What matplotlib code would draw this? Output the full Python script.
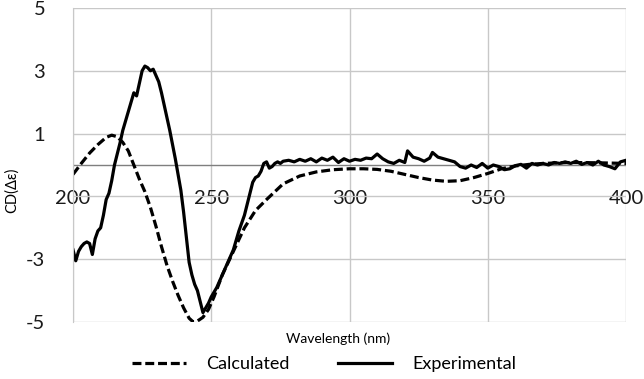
import numpy as np
import matplotlib
matplotlib.use('Agg')
from matplotlib import pyplot as plt

plt.rcParams['font.family'] = ['Lato', 'DejaVu Sans']

# Calculated CD spectrum (dashed)
calc_wl = [200, 203, 206, 209, 212, 214, 216, 218, 220, 222, 224, 226, 228, 230,
           232, 234, 236, 238, 240, 242, 243.5, 245, 247, 249, 251, 254, 258, 262,
           266, 270, 276, 282, 288, 294, 300, 305, 310, 315, 320, 325, 330, 335,
           340, 345, 350, 355, 360, 365, 370, 380, 390, 400]
calc_cd = [-0.3, 0.05, 0.38, 0.65, 0.88, 0.95, 0.9, 0.72, 0.45, 0.0, -0.45, -0.85,
           -1.35, -1.95, -2.6, -3.2, -3.7, -4.15, -4.55, -4.88, -5.0, -4.97, -4.85,
           -4.6, -4.2, -3.5, -2.75, -2.0, -1.45, -1.1, -0.6, -0.35, -0.22, -0.15,
           -0.12, -0.12, -0.14, -0.2, -0.3, -0.4, -0.48, -0.52, -0.5, -0.4, -0.27,
           -0.12, -0.03, 0.02, 0.05, 0.08, 0.07, 0.05]

# Experimental CD spectrum (solid)
exp_wl = [200, 201, 202, 203, 204, 205, 206, 207, 208, 209, 210, 211, 212, 213, 214,
          215, 216, 217, 218, 219, 220, 221, 222, 223, 224, 225, 226, 227, 228, 229,
          230, 231, 232, 233, 234, 235, 236, 237, 238, 239, 240, 241, 242, 243, 244,
          245, 246, 247, 248, 249, 250, 252, 254, 256, 258, 260, 262, 264, 265, 266,
          267, 268, 269, 270, 271, 272, 273, 274, 275, 276, 278, 280, 282, 284, 286,
          288, 290, 292, 294, 296, 298, 300, 302, 304, 306, 308, 310, 312, 314, 316,
          318, 320, 321, 323, 325, 327, 329, 330, 332, 334, 336, 338, 340, 342, 344,
          346, 348, 350, 352, 354, 356, 358, 360, 362, 364, 366, 368, 370, 372, 374,
          376, 378, 380, 382, 384, 386, 388, 390, 392, 394, 396, 398, 400]
exp_cd = [-2.7, -3.05, -2.75, -2.6, -2.5, -2.45, -2.5, -2.85, -2.35, -2.1, -2.0, -1.6,
          -1.1, -0.9, -0.5, 0.0, 0.35, 0.7, 1.1, 1.4, 1.7, 2.0, 2.3, 2.2, 2.6, 3.0,
          3.15, 3.1, 3.0, 3.05, 2.85, 2.65, 2.3, 1.9, 1.5, 1.1, 0.65, 0.2, -0.3, -0.8,
          -1.5, -2.3, -3.1, -3.5, -3.8, -4.0, -4.35, -4.7, -4.55, -4.4, -4.2, -3.9,
          -3.5, -3.1, -2.7, -2.1, -1.6, -0.9, -0.55, -0.4, -0.35, -0.2, 0.05, 0.1,
          -0.1, -0.05, 0.05, 0.1, 0.05, 0.12, 0.15, 0.1, 0.18, 0.12, 0.2, 0.1, 0.22,
          0.15, 0.25, 0.08, 0.2, 0.12, 0.18, 0.15, 0.22, 0.2, 0.35, 0.2, 0.1, 0.05,
          0.15, 0.08, 0.45, 0.25, 0.2, 0.12, 0.22, 0.4, 0.25, 0.2, 0.15, 0.1, -0.05,
          -0.1, 0.0, -0.08, 0.05, -0.1, 0.0, -0.05, -0.15, -0.12, -0.02, 0.02, -0.1,
          0.05, 0.0, 0.05, 0.0, 0.08, 0.05, 0.1, 0.05, 0.12, 0.02, 0.08, 0.0, 0.12,
          0.0, -0.05, -0.12, 0.1, 0.15]

x_ticks = [200, 250, 300, 350, 400]
y_ticks = [5, 3, 1, -1, -3, -5]
y_labels = ['5', '3', '1', '', '-3', '-5']

fig = plt.figure(figsize=(6.44, 3.79), dpi=100)
ax = fig.add_axes([73/644, 1 - 322/379, 553/644, 314/379])

ax.plot(calc_wl, calc_cd, color='black', lw=2.3, dashes=(2.8, 1.2),
        label='Calculated', solid_capstyle='butt')
ax.plot(exp_wl, exp_cd, color='black', lw=2.3, label='Experimental')

ax.set_xlim(200, 400)
ax.set_ylim(-5, 5)
ax.set_xticks(x_ticks)
ax.set_yticks(y_ticks)
ax.set_yticklabels(y_labels)
ax.grid(True, color='#c8c8c8', lw=1)
ax.set_axisbelow(True)
ax.axhline(0, color='#7f7f7f', lw=1, zorder=1)

ax.spines['bottom'].set_position(('data', 0))
ax.spines['bottom'].set_visible(False)
ax.spines['top'].set_visible(False)
ax.spines['right'].set_visible(False)
ax.spines['left'].set_color('#c8c8c8')
ax.tick_params(axis='x', length=0, pad=18, labelsize=14.5, colors='#1a1a1a')
ax.tick_params(axis='y', length=0, pad=20, labelsize=14.5, colors='#1a1a1a')

fig.text(12/644, 1 - 190/379, 'CD(\u0394\u03b5)', rotation=90, ha='center',
         va='center', fontsize=10.5)
fig.text(338/644, 1 - 339/379, 'Wavelength (nm)', ha='center', va='center',
         fontsize=10)

fig.legend(loc='center', bbox_to_anchor=(324/644, 1 - 364/379), ncol=2,
           frameon=False, handlelength=3.0, columnspacing=2.7, handletextpad=1.1,
           fontsize=13)

fig.savefig('out.png', dpi=100)
